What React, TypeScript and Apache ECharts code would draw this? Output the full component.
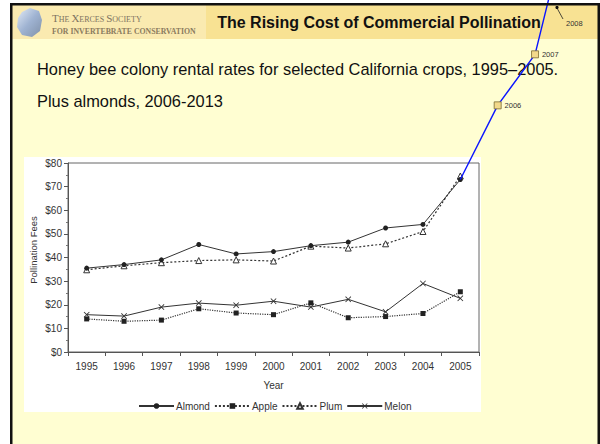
import React, { useEffect, useRef } from "react";
import * as echarts from "echarts";

// ---- data ----
const years = ["1995", "1996", "1997", "1998", "1999", "2000", "2001", "2002", "2003", "2004", "2005"];
const almond = [35.5, 37, 39, 45.5, 41.5, 42.5, 45, 46.5, 52.5, 54, 73];
const apple = [14, 13, 13.5, 18.3, 16.5, 15.8, 20.8, 14.5, 15, 16.3, 25.5];
const plum = [34.8, 36.5, 37.8, 38.7, 39, 38.5, 44.8, 44, 45.8, 51, 74.5];
const melon = [15.8, 15.2, 19, 20.7, 19.8, 21.5, 19, 22.3, 17, 29, 22.7];

// almond extension (blue line) beyond the original chart
const extYears = ["1995", "1996", "1997", "1998", "1999", "2000", "2001", "2002", "2003", "2004", "2005", "2006", "2007", "2008"];
const almondExt = [null, null, null, null, null, null, null, null, null, null, 73, 104.4, 126, 190];
const labelledExt = ["2006", "2007"];

const yTicks = { min: 0, max: 80, interval: 10 };

const FONT = "'Liberation Sans', Arial, sans-serif";
const SERIF = "'Liberation Serif', 'DejaVu Serif', serif";
const INK = "#333";

const crossPath = "path://M0,1 L1,0 L5,4 L9,0 L10,1 L6,5 L10,9 L9,10 L5,6 L1,10 L0,9 L4,5 Z";

export default function App() {
  const ref = useRef<HTMLDivElement>(null);
  useEffect(() => {
    if (!ref.current) return;
    const chart = echarts.init(ref.current, undefined, { renderer: "svg" });

    const plotW = 411;
    const extW = (plotW * extYears.length) / years.length;

    const option: any = {
      animation: false,
      backgroundColor: "#ffffff",
      textStyle: { fontFamily: FONT },
      graphic: [
        // slide background
        { type: "rect", z: -100, shape: { x: 11, y: 4, width: 588, height: 440 }, style: { fill: "#fffed2" } },
        // header band
        { type: "rect", z: -99, shape: { x: 11, y: 5, width: 588, height: 34 }, style: { fill: "#f8e293" } },
        { type: "rect", z: -98, shape: { x: 12, y: 5, width: 194, height: 34 }, style: { fill: "#faeab0" } },
        // borders
        { type: "rect", z: 50, shape: { x: 10, y: 3, width: 2.5, height: 441 }, style: { fill: "#111" } },
        { type: "rect", z: 50, shape: { x: 10, y: 3, width: 590, height: 2.5 }, style: { fill: "#111" } },
        { type: "rect", z: 50, shape: { x: 597.5, y: 3, width: 2.5, height: 441 }, style: { fill: "#111" } },
        // logo
        {
          type: "polygon",
          z: -90,
          shape: { points: [[22, 12], [30, 8], [39, 11], [42, 20], [40, 31], [32, 37], [22, 35], [17, 27], [18, 18]] },
          style: {
            fill: new echarts.graphic.LinearGradient(0, 0, 1, 1, [
              { offset: 0, color: "#e4ecf6" },
              { offset: 0.5, color: "#9fb3d2" },
              { offset: 1, color: "#7f90a8" },
            ]),
          },
        },
        {
          type: "text",
          z: -80,
          x: 52,
          y: 18,
          style: {
            text: "{b|T}{s|HE }{b|X}{s|ERCES }{b|S}{s|OCIETY}",
            verticalAlign: "middle",
            rich: {
              b: { fontFamily: SERIF, fontSize: 11, fill: "#7d7361", verticalAlign: "bottom" },
              s: { fontFamily: SERIF, fontSize: 8, fill: "#7d7361", verticalAlign: "bottom" },
            },
          },
        },
        {
          type: "text",
          z: -80,
          x: 52,
          y: 31.5,
          style: {
            text: "FOR INVERTEBRATE CONSERVATION",
            fontFamily: SERIF,
            fontSize: 7.8,
            fontWeight: "bold",
            fill: "#8a7b5e",
            verticalAlign: "middle",
          },
        },
        // title
        {
          type: "text",
          z: 10,
          x: 379,
          y: 22,
          style: {
            text: "The Rising Cost of Commercial Pollination",
            fontFamily: FONT,
            fontSize: 16,
            fontWeight: "bold",
            fill: "#111",
            align: "center",
            verticalAlign: "middle",
          },
        },
        // body text
        {
          type: "text",
          z: 10,
          x: 37,
          y: 69,
          style: {
            text: "Honey bee colony rental rates for selected California crops, 1995\u20132005.",
            fontFamily: FONT,
            fontSize: 16.4,
            fill: "#111",
            verticalAlign: "middle",
          },
        },
        {
          type: "text",
          z: 10,
          x: 37,
          y: 101,
          style: {
            text: "Plus almonds, 2006-2013",
            fontFamily: FONT,
            fontSize: 16.4,
            fill: "#111",
            verticalAlign: "middle",
          },
        },
        // chart picture background
        { type: "rect", z: -50, shape: { x: 24, y: 157, width: 457, height: 255 }, style: { fill: "#ffffff" } },
        // y axis title
        {
          type: "text",
          z: 10,
          x: 33.5,
          y: 250,
          rotation: Math.PI / 2,
          style: {
            text: "Pollination Fees",
            fontFamily: FONT,
            fontSize: 9.5,
            fill: INK,
            align: "center",
            verticalAlign: "middle",
          },
        },
        // 2008 callout
        { type: "line", z: 60, shape: { x1: 563, y1: 19, x2: 557, y2: 8 }, style: { stroke: "#222", lineWidth: 0.8 } },
        { type: "circle", z: 60, shape: { cx: 557, cy: 7.5, r: 1.6 }, style: { fill: "#111" } },
        {
          type: "text",
          z: 60,
          x: 566,
          y: 23,
          style: { text: "2008", fontFamily: FONT, fontSize: 7.5, fill: INK, verticalAlign: "middle" },
        },
      ],
      grid: [
        { left: 68, top: 163, width: plotW, height: 189, show: true, borderColor: "#666", borderWidth: 1, backgroundColor: "#fff" },
        { left: 68, top: 163, width: extW, height: 189, show: false },
      ],
      xAxis: [
        {
          type: "category",
          gridIndex: 0,
          data: years,
          boundaryGap: true,
          axisLine: { lineStyle: { color: "#555", width: 1 } },
          axisTick: { show: true, length: 4, lineStyle: { color: "#555" } },
          axisLabel: { color: INK, fontSize: 10, margin: 9, fontFamily: FONT },
          name: "Year",
          nameLocation: "middle",
          nameGap: 28,
          nameTextStyle: { color: INK, fontSize: 10, fontFamily: FONT },
        },
        { type: "category", gridIndex: 1, data: extYears, boundaryGap: true, show: false },
      ],
      yAxis: [
        {
          type: "value",
          gridIndex: 0,
          min: yTicks.min,
          max: yTicks.max,
          interval: yTicks.interval,
          axisLine: { show: true, lineStyle: { color: "#555", width: 1 } },
          axisTick: { show: true, length: 4, lineStyle: { color: "#555" } },
          minorTick: { show: true, splitNumber: 2, length: 2, lineStyle: { color: "#777" } },
          splitLine: { show: false },
          axisLabel: { color: INK, fontSize: 10, margin: 6, formatter: (v: number) => "$" + v, fontFamily: FONT },
        },
        { type: "value", gridIndex: 1, min: yTicks.min, max: yTicks.max, show: false },
      ],
      legend: {
        left: 133,
        top: 396,
        itemWidth: 35,
        itemHeight: 7,
        itemGap: 4,
        textStyle: { color: INK, fontSize: 10, fontFamily: FONT, padding: [0, 0, 0, -3] },
        data: ["Almond", "Apple", "Plum", "Melon"],
      },
      series: [
        {
          name: "Almond",
          type: "line",
          xAxisIndex: 0,
          yAxisIndex: 0,
          data: almond,
          symbol: "circle",
          symbolSize: 5,
          lineStyle: { color: "#333", width: 1 },
          itemStyle: { color: "#222" },
          z: 5,
        },
        {
          name: "Apple",
          type: "line",
          data: apple,
          symbol: "rect",
          symbolSize: 5,
          lineStyle: { color: "#333", width: 1.2, type: "dotted" },
          itemStyle: { color: "#222" },
        },
        {
          name: "Plum",
          type: "line",
          data: plum,
          symbol: "triangle",
          symbolSize: 6,
          lineStyle: { color: "#333", width: 1.2, type: [2, 2] },
          itemStyle: { color: "#fff", borderColor: "#333", borderWidth: 1 },
        },
        {
          name: "Melon",
          type: "line",
          data: melon,
          symbol: crossPath,
          symbolSize: 6,
          lineStyle: { color: "#333", width: 1 },
          itemStyle: { color: "#333" },
        },
        {
          name: "Almond 2006+",
          type: "line",
          xAxisIndex: 1,
          yAxisIndex: 1,
          clip: false,
          connectNulls: false,
          z: 20,
          lineStyle: { color: "#0a14ff", width: 1.4 },
          itemStyle: { color: "#f3d98a", borderColor: "#7a6a30", borderWidth: 0.8 },
          symbol: "rect",
          symbolSize: 7,
          data: almondExt.map((v, i) => {
            const show = labelledExt.includes(extYears[i]);
            return {
              value: v,
              symbol: show ? "rect" : "none",
              label: {
                show,
                position: "right",
                distance: 3,
                formatter: "{b}",
                fontSize: 7.5,
                color: INK,
                fontFamily: FONT,
              },
            };
          }),
        },
      ],
    };
    chart.setOption(option);
    return () => chart.dispose();
  }, []);
  return <div ref={ref} style={{ position: "absolute", left: 0, top: 0, width: 600, height: 444 }} />;
}
